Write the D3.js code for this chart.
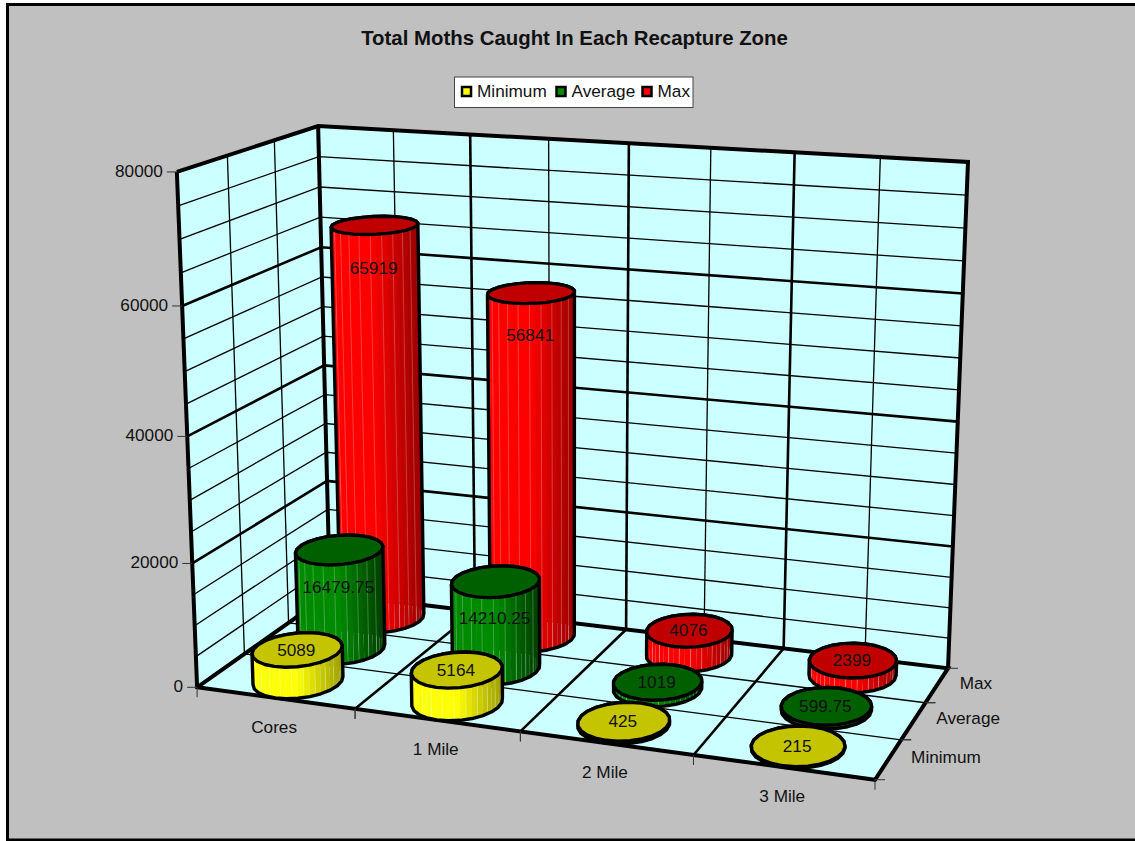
<!DOCTYPE html>
<html>
<head>
<meta charset="utf-8">
<script src="https://cdn.jsdelivr.net/npm/d3@7"></script>
<style>
	html, body { margin:0; padding:0; background:#fff; }
	svg { display:block; }
	text { font-family:"Liberation Sans", Arial, sans-serif; fill:#111; }
</style>
</head>
<body>
<svg id="chart" width="1135" height="841"></svg>
<script>
var categories = ["Cores", "1 Mile", "2 Mile", "3 Mile"];
var seriesNames = ["Minimum", "Average", "Max"];
var minimumValues = [5089, 5164, 425, 215];
var averageValues = [16479.75, 14210.25, 1019, 599.75];
var maxValues = [65919, 56841, 4076, 2399];
var valueTicks = [0, 20000, 40000, 60000, 80000];
var minorTicks = [5000, 10000, 15000, 25000, 30000, 35000, 45000, 50000, 55000, 65000, 70000, 75000];

var seriesValues = [minimumValues, averageValues, maxValues];
var sideColors = [["#ffff00", "#9c9c00"], ["#008a00", "#003c00"], ["#ff0000", "#980000"]];
var topColors = ["#c4c400", "#006000", "#c00000"];

var svg = d3.select("#chart");

// scales take data to the unit box, the camera below takes the box to the screen
var xUnit = d3.scaleLinear().domain([0, categories.length]).range([0, 1]);
var zUnit = d3.scaleLinear().domain([0, seriesNames.length]).range([0, 1]);
var yUnit = d3.scaleLinear().domain([0, 80000]).range([0, 1]);

// corners of the plot box: box x, z, y then screen x, y
var anchors = [
	[0, 0, 0, 197, 687],
	[1, 0, 0, 875, 780],
	[1, 1, 0, 948, 668],
	[0, 1, 0, 330, 594],
	[0, 0, 1, 177, 172],
	[0, 1, 1, 318, 126],
	[1, 1, 1, 968, 162]
];

// least squares fit of a projective camera to the anchors
function fitCamera(points){
	var rows = [], rhs = [];
	points.forEach(function(p){
		rows.push([p[0], p[1], p[2], 1, 0, 0, 0, 0, -p[3]*p[0], -p[3]*p[1], -p[3]*p[2]]);
		rhs.push(p[3]);
		rows.push([0, 0, 0, 0, p[0], p[1], p[2], 1, -p[4]*p[0], -p[4]*p[1], -p[4]*p[2]]);
		rhs.push(p[4]);
	});
	var n = 11, m = [];
	for(var i=0;i<n;i++){
		m[i] = [];
		for(var j=0;j<n;j++) m[i][j] = d3.sum(rows, function(r){ return r[i]*r[j]; });
		m[i][n] = d3.sum(rows, function(r, k){ return r[i]*rhs[k]; });
	}
	for(i=0;i<n;i++){
		var best = i;
		for(j=i+1;j<n;j++) if(Math.abs(m[j][i]) > Math.abs(m[best][i])) best = j;
		var tmp = m[i]; m[i] = m[best]; m[best] = tmp;
		for(j=0;j<n;j++){
			if(j==i) continue;
			var f = m[j][i]/m[i][i];
			for(var k=i;k<=n;k++) m[j][k] -= f*m[i][k];
		}
	}
	return m.map(function(r, i){ return r[n]/r[i]; });
}

var cam = fitCamera(anchors);

// c = category position, s = series position, v = value
function project(c, s, v){
	var x = xUnit(c), z = zUnit(s), y = yUnit(v);
	var w = cam[8]*x + cam[9]*z + cam[10]*y + 1;
	return [(cam[0]*x + cam[1]*z + cam[2]*y + cam[3])/w, (cam[4]*x + cam[5]*z + cam[6]*y + cam[7])/w];
}

var line = d3.line();

function drawPath(points, width){
	svg.append("path").attr("d", line(points))
		.attr("fill", "none").attr("stroke", "#000").attr("stroke-width", width);
}

// background and frame, the frame runs off the right side of the page
svg.append("rect").attr("x", 7.5).attr("y", 4.5).attr("width", 1140).attr("height", 835.5)
	.attr("fill", "#c0c0c0").attr("stroke", "#000").attr("stroke-width", 3);

// walls and floor
var nc = categories.length, ns = seriesNames.length;
[
	[[0,0,0],[0,ns,0],[0,ns,80000],[0,0,80000]],
	[[0,ns,0],[nc,ns,0],[nc,ns,80000],[0,ns,80000]],
	[[0,0,0],[nc,0,0],[nc,ns,0],[0,ns,0]]
].forEach(function(face){
	svg.append("path")
		.attr("d", line(face.map(function(p){ return project(p[0], p[1], p[2]); })) + "Z")
		.attr("fill", "#ccffff");
});

function wallLine(v, width){
	drawPath([project(0, 0, v), project(0, ns, v), project(nc, ns, v)], width);
}
minorTicks.forEach(function(v){ wallLine(v, 1.3); });
valueTicks.slice(1, -1).forEach(function(v){ wallLine(v, 2.6); });

// verticals on the side wall and lines across the floor
d3.range(1, ns).forEach(function(s){
	drawPath([project(0, s, 0), project(0, s, 80000)], 1.3);
	drawPath([project(0, s, 0), project(nc, s, 0)], 1.3);
});
// verticals on the back wall, thick at category edges
d3.range(0, nc).forEach(function(c){
	drawPath([project(c + 0.5, ns, 0), project(c + 0.5, ns, 80000)], 1.3);
	if(c > 0){
		drawPath([project(c, ns, 0), project(c, ns, 80000)], 2.6);
		drawPath([project(c, 0, 0), project(c, ns, 0)], 2.6);
	}
});

// box outline
drawPath([project(0,0,80000), project(0,0,0), project(nc,0,0), project(nc,ns,0), project(0,ns,0), project(0,0,0)], 4);
drawPath([project(0,0,80000), project(0,ns,80000), project(nc,ns,80000), project(nc,ns,0)], 4);
drawPath([project(0,ns,0), project(0,ns,80000)], 4);

// tick marks and axis labels
var labelSize = 17.2;
var tickStyle = function(sel){ sel.attr("fill", "none").attr("stroke", "#333").attr("stroke-width", 1); };
valueTicks.forEach(function(v){
	var p = project(0, 0, v);
	svg.append("path").attr("d", line([[p[0] - 10, p[1]], p])).call(tickStyle);
	svg.append("text").attr("x", p[0] - 14).attr("y", p[1] + 5)
		.attr("text-anchor", "end").attr("font-size", labelSize).text(v);
});
categories.forEach(function(name, i){
	var p = project(i, 0, 0), q = project(i + 1, 0, 0);
	svg.append("path").attr("d", line([p, [p[0], p[1] + 10]])).call(tickStyle);
	svg.append("path").attr("d", line([q, [q[0], q[1] + 10]])).call(tickStyle);
	svg.append("text").attr("x", (p[0] + q[0])/2 - 2).attr("y", (p[1] + q[1])/2 + 34.5)
		.attr("text-anchor", "middle").attr("font-size", labelSize).text(name);
});
seriesNames.forEach(function(name, i){
	var p = project(nc, i, 0), q = project(nc, i + 1, 0);
	svg.append("path").attr("d", line([p, [p[0] + 10, p[1]]])).call(tickStyle);
	svg.append("path").attr("d", line([q, [q[0] + 10, q[1]]])).call(tickStyle);
	svg.append("text").attr("x", (p[0] + q[0])/2 + 23).attr("y", (p[1] + q[1])/2 + 3)
		.attr("font-size", labelSize).text(name);
});

// one cylinder: facets coloured across the width, then outline and lid
var facetCount = 48, radiusC = 0.25, radiusS = 0.5;
function ring(c, s, v){
	return d3.range(facetCount).map(function(i){
		var a = i/facetCount*2*Math.PI;
		return project(c + 0.5 + radiusC*Math.cos(a), s + 0.5 + radiusS*Math.sin(a), v);
	});
}
// the outline has half as many corners as the side has strips
function coarse(points){
	return points.filter(function(p, i){ return i % 2 == 0; });
}

function drawBar(c, s, v){
	var low = ring(c, s, 0), high = ring(c, s, v);
	var xs = d3.extent(low.concat(high), function(p){ return p[0]; });
	var shade = d3.scaleLinear().domain([xs[0], xs[0] + (xs[1] - xs[0])*0.5, xs[1]])
		.range([sideColors[s][0], sideColors[s][0], sideColors[s][1]]);
	d3.range(facetCount).forEach(function(i){
		var j = (i + 1) % facetCount;
		var quad = [low[i], low[j], high[j], high[i]];
		svg.append("path").attr("d", line(quad) + "Z")
			.attr("fill", shade((low[i][0] + low[j][0])/2));
		// faint seams on the front half
		if(i > facetCount/2 && i % 2 == 1){
			svg.append("path").attr("d", line([low[i], high[i]]))
				.attr("stroke", "#fff").attr("stroke-opacity", 0.3).attr("stroke-width", 0.8);
		}
	});
	svg.append("path").attr("d", line(d3.polygonHull(coarse(low).concat(coarse(high)))) + "Z")
		.attr("fill", "none").attr("stroke", "#000").attr("stroke-width", 3.4).attr("stroke-linejoin", "round");
	svg.append("path").attr("d", line(coarse(high)) + "Z")
		.attr("fill", topColors[s]).attr("stroke", "#000").attr("stroke-width", 3.4).attr("stroke-linejoin", "round");
	var top = project(c + 0.5, s + 0.5, v);
	// tall bars carry the label inside the body
	svg.append("text").attr("x", top[0] - 1).attr("y", top[1] + (v > 10000 ? 35 + v/8000 : 0) + 6)
		.attr("text-anchor", "middle").attr("font-size", labelSize).text(v);
}

// back series first so nearer bars overlap
d3.range(ns - 1, -1, -1).forEach(function(s){
	categories.forEach(function(name, c){ drawBar(c, s, seriesValues[s][c]); });
});

// title and legend
svg.append("text").attr("x", 574.5).attr("y", 45).attr("text-anchor", "middle")
	.attr("font-size", 20.4).attr("font-weight", "bold").text("Total Moths Caught In Each Recapture Zone");

svg.append("rect").attr("x", 454.5).attr("y", 77).attr("width", 238.5).attr("height", 30.5)
	.attr("fill", "#fff").attr("stroke", "#444").attr("stroke-width", 1);
var legendX = d3.scaleOrdinal().domain(seriesNames).range([462, 556.5, 642.5]);
seriesNames.forEach(function(name, i){
	svg.append("rect").attr("x", legendX(name)).attr("y", 87).attr("width", 9).attr("height", 9)
		.attr("fill", sideColors[i][0]).attr("stroke", "#000").attr("stroke-width", 2.5);
	svg.append("text").attr("x", legendX(name) + 15).attr("y", 97)
		.attr("font-size", labelSize).text(name);
});
</script>
</body>
</html>
